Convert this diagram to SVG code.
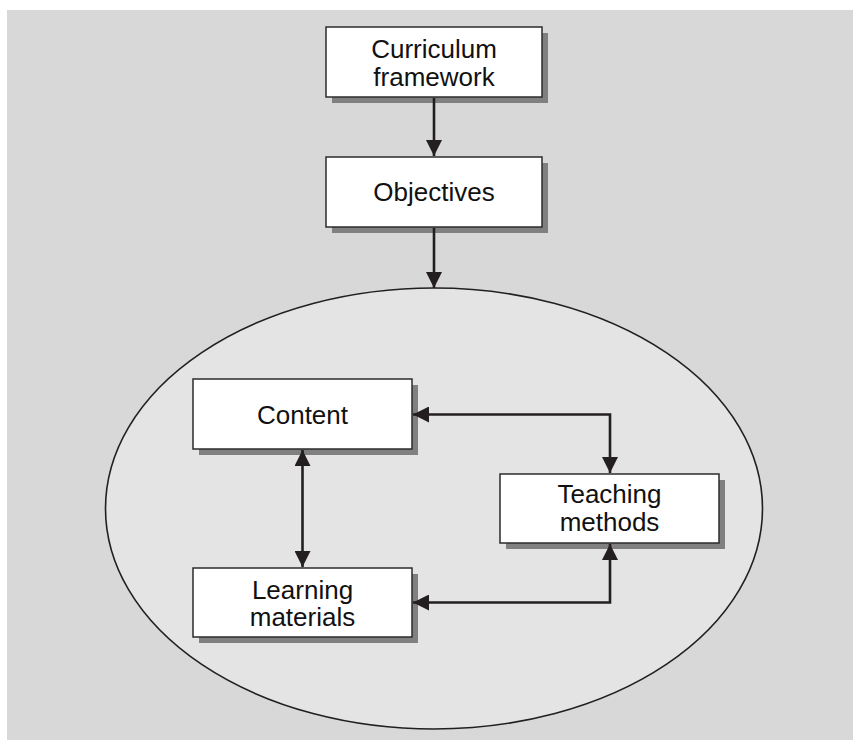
<svg xmlns="http://www.w3.org/2000/svg" width="853" height="740" viewBox="0 0 853 740">
<defs>
<style>
.box{fill:#ffffff;stroke:#2b2b2b;stroke-width:1.5}
.shadow{fill:#808080}
.lbl{font-family:"Liberation Sans",Arial,sans-serif;font-size:26px;fill:#111;text-anchor:middle}
.conn{fill:none;stroke:#231f20;stroke-width:2.6}
</style>
<marker id="ah" viewBox="0 0 16 16" refX="16" refY="8" markerWidth="16" markerHeight="16" markerUnits="userSpaceOnUse" orient="auto-start-reverse">
<path d="M0,0 L16,8 L0,16 Z" fill="#231f20"/>
</marker>
</defs>
<rect x="0" y="0" width="853" height="740" fill="#ffffff"/>
<rect x="7" y="10" width="846" height="730" fill="#d8d8d8"/>
<g id="scope">
<ellipse cx="434" cy="508.5" rx="328.5" ry="220.5" fill="#e4e4e4" stroke="#231f20" stroke-width="1.6"/>
</g>
<g id="curriculum">
<rect class="shadow" x="332" y="33" width="216" height="70"/>
<rect class="box" x="326" y="27" width="216" height="70"/>
<text class="lbl" x="434" y="58">Curriculum<tspan x="434" dy="28">framework</tspan></text>
</g>
<g id="objectives">
<rect class="shadow" x="332" y="163" width="216" height="70"/>
<rect class="box" x="326" y="157" width="216" height="70"/>
<text class="lbl" x="434" y="201">Objectives</text>
</g>
<g id="content">
<rect class="shadow" x="199" y="385" width="219" height="70"/>
<rect class="box" x="193" y="379" width="219" height="70"/>
<text class="lbl" x="302.5" y="424">Content</text>
</g>
<g id="learning">
<rect class="shadow" x="199" y="574" width="219" height="69"/>
<rect class="box" x="193" y="568" width="219" height="69"/>
<text class="lbl" x="302.5" y="599">Learning<tspan x="302.5" dy="27">materials</tspan></text>
</g>
<g id="teaching">
<rect class="shadow" x="506" y="480" width="219" height="69"/>
<rect class="box" x="500" y="474" width="219" height="69"/>
<text class="lbl" x="609.5" y="502.5">Teaching<tspan x="609.5" dy="28">methods</tspan></text>
</g>
<g id="connectors">
<path class="conn" d="M434,98 L434,156" marker-end="url(#ah)"/>
<path class="conn" d="M434,228 L434,288" marker-end="url(#ah)"/>
<path class="conn" d="M302.5,450 L302.5,567" marker-start="url(#ah)" marker-end="url(#ah)"/>
<path class="conn" d="M413,414.5 L610,414.5 L610,473" marker-start="url(#ah)" marker-end="url(#ah)"/>
<path class="conn" d="M413,602.5 L610,602.5 L610,544" marker-start="url(#ah)" marker-end="url(#ah)"/>
</g>
</svg>
